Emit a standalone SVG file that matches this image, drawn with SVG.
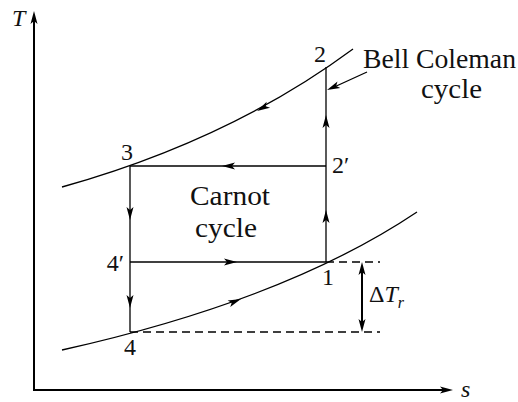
<svg xmlns="http://www.w3.org/2000/svg" xmlns:xlink="http://www.w3.org/1999/xlink" width="518" height="402" viewBox="0 0 518 402">
<style>
.ln{fill:none;stroke:#000;stroke-width:1.3}
.ax{fill:none;stroke:#000;stroke-width:2}
.ds{fill:none;stroke:#000;stroke-width:1.5;stroke-dasharray:8,5}
.t{font-family:"Liberation Serif","Times New Roman",serif;fill:#111}
.w{font-size:27px}
.d{font-size:24px}
.i{font-style:italic}
.ah{fill:#000}
</style>
<defs>
<path id="ah" d="M0,0 L-13,-3.5 L-10,0 L-13,3.5 Z"/>
</defs>
<rect width="518" height="402" fill="#fff"/>
<g id="axes">
<line class="ax" x1="34" y1="391" x2="34" y2="16"/>
<line class="ax" x1="33" y1="390" x2="448" y2="390"/>
<use href="#ah" class="ah" transform="translate(34,11) rotate(-90)"/>
<use href="#ah" class="ah" transform="translate(453,390)"/>
<text class="t d i" x="12" y="26">T</text>
<text class="t d i" x="461" y="397">s</text>
</g>
<g id="curves">
<path class="ln" d="M62,187 Q230,140 353,49"/>
<path class="ln" d="M62,350 Q286,300 417,212"/>
</g>
<g id="connectors">
<line class="ln" x1="326" y1="166" x2="130" y2="166"/>
<line class="ln" x1="130" y1="166" x2="130" y2="332"/>
<line class="ln" x1="130" y1="262" x2="326" y2="262"/>
<line class="ln" x1="326" y1="262" x2="326" y2="67"/>
<line class="ds" x1="326" y1="262" x2="380" y2="262"/>
<line class="ds" x1="130" y1="332" x2="380" y2="332"/>
<line class="ax" x1="362" y1="266" x2="362" y2="328"/>
<line class="ln" x1="367" y1="72" x2="332" y2="88"/>
<use href="#ah" class="ah" transform="translate(222,166) rotate(180)"/>
<use href="#ah" class="ah" transform="translate(130,220) rotate(90)"/>
<use href="#ah" class="ah" transform="translate(130,308) rotate(90)"/>
<use href="#ah" class="ah" transform="translate(237,262)"/>
<use href="#ah" class="ah" transform="translate(241,299) rotate(-22)"/>
<use href="#ah" class="ah" transform="translate(326,210) rotate(-90)"/>
<use href="#ah" class="ah" transform="translate(326,115) rotate(-90)"/>
<use href="#ah" class="ah" transform="translate(257,111) rotate(151)"/>
<use href="#ah" class="ah" transform="translate(327,90) rotate(156)"/>
<use href="#ah" class="ah" transform="translate(362,262) rotate(-90)"/>
<use href="#ah" class="ah" transform="translate(362,332) rotate(90)"/>
</g>
<g id="labels">
<text class="t d" x="320" y="62" text-anchor="middle">2</text>
<text class="t d" x="332" y="173">2′</text>
<text class="t d" x="127" y="160" text-anchor="middle">3</text>
<text class="t d" x="124" y="271" text-anchor="end">4′</text>
<text class="t d" x="328" y="285" text-anchor="middle">1</text>
<text class="t d" x="130" y="355" text-anchor="middle">4</text>
<text class="t w" x="190" y="205" textLength="80" lengthAdjust="spacingAndGlyphs">Carnot</text>
<text class="t w" x="195" y="237" textLength="62" lengthAdjust="spacingAndGlyphs">cycle</text>
<text class="t w" x="363" y="68" textLength="153" lengthAdjust="spacingAndGlyphs">Bell Coleman</text>
<text class="t w" x="421" y="98" textLength="61" lengthAdjust="spacingAndGlyphs">cycle</text>
<text class="t d" x="369" y="302">Δ<tspan class="i">T</tspan><tspan class="i" font-size="16" dy="6">r</tspan></text>
</g>
</svg>
